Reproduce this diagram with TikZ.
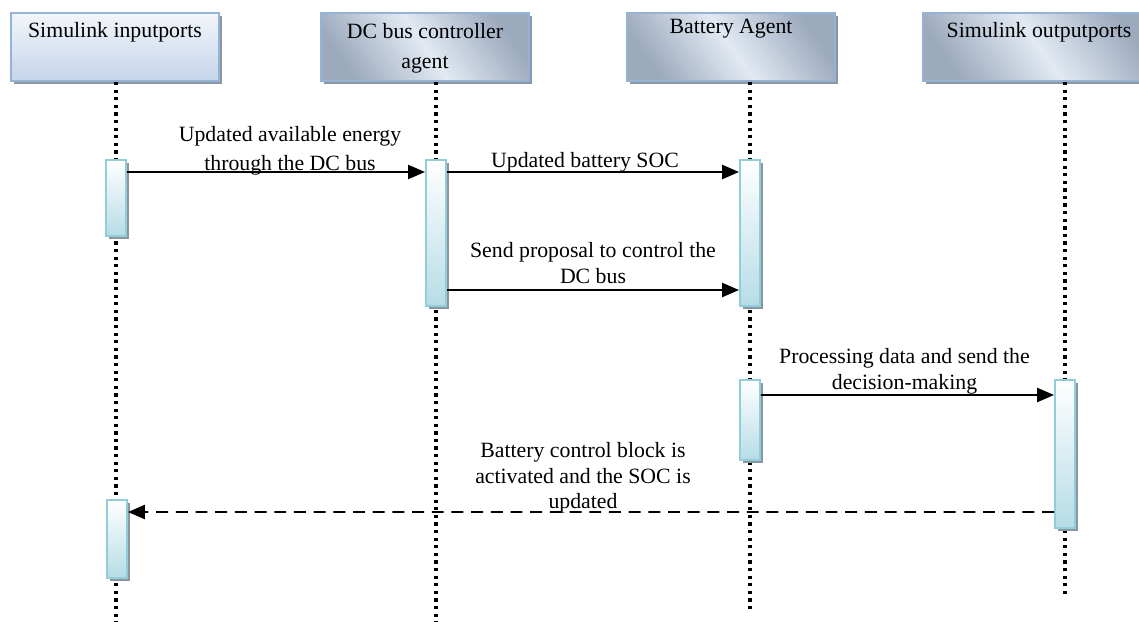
\documentclass[tikz,border=0pt]{standalone}
\usepackage{fontspec}
\setmainfont{Liberation Serif}
\usetikzlibrary{arrows.meta,positioning,calc,shadows}
\definecolor{headedge}{RGB}{149,179,215}
\definecolor{headtop}{RGB}{243,246,250}
\definecolor{headlow}{RGB}{196,212,234}
\definecolor{steeldark}{RGB}{156,170,190}
\definecolor{steellight}{RGB}{226,233,242}
\definecolor{baredge}{RGB}{146,205,220}
\definecolor{barlow}{RGB}{182,220,230}
\definecolor{shadowgray}{RGB}{140,150,160}

\begin{document}
\begin{tikzpicture}[
  x=0.025cm, y=-0.025cm,
  head/.style={rectangle, draw=headedge, line width=1.4pt, minimum width=5.2cm, inner sep=0pt, text height=0.625cm, text depth=1.075cm, align=center, font=\fontsize{15.5}{21}\selectfont, general shadow={fill=shadowgray, shadow xshift=2pt, shadow yshift=-2pt}},
  plainhead/.style={head, top color=headtop, bottom color=headlow},
  metalhead/.style={head, top color=steeldark, bottom color=steeldark, middle color=steellight, shading angle=-55},
  bar/.style={rectangle, draw=baredge, line width=1.4pt, top color=white, bottom color=barlow, minimum width=0.5cm, inner sep=0pt, general shadow={fill=shadowgray, shadow xshift=2pt, shadow yshift=-2pt}},
  life/.style={line width=2.3pt, dash pattern=on 2.3pt off 3.1pt},
  msg/.style={-{Triangle[length=12pt,width=10pt]}, line width=1.4pt},
  reply/.style={msg, dash pattern=on 8.5pt off 5.5pt},
  lbl/.style={font=\fontsize{15.5}{18}\selectfont, align=center, inner sep=1pt}
]
\useasboundingbox (0,0) rectangle (1139,626);

% Lifeline heads
\node[plainhead, anchor=north west] (inports) at (10,12) {Simulink inputports};
\node[metalhead, anchor=north west, text height=1.375cm, text depth=0.325cm] (busagent) at (320,12) {DC bus controller\\agent};
\node[metalhead, anchor=north west, text height=0.525cm, text depth=1.175cm] (battagent) at (626,12) {Battery Agent};
\node[metalhead, anchor=north west, minimum width=5.8cm] (outports) at (922,12) {Simulink outputports};

% Lifelines
\coordinate (inend) at (116,622);
\coordinate (busend) at (436,622);
\coordinate (battend) at (750,612);
\coordinate (outend) at (1065,598);
\draw[life] (inports.south -| inend) -- (inend);
\draw[life] (busagent.south -| busend) -- (busend);
\draw[life] (battagent.south -| battend) -- (battend);
\draw[life] (outports.south -| outend) -- (outend);

% Activation bars
\node[bar, minimum height=1.9cm] (inact1) at (116,198) {};
\node[bar, minimum height=3.65cm] (busact) at (436,233) {};
\node[bar, minimum height=3.65cm] (battact1) at (750,233) {};
\node[bar, minimum height=2cm] (battact2) at (750,420) {};
\node[bar, minimum height=3.7cm] (outact) at (1065,454) {};
\node[bar, minimum height=1.95cm] (inact2) at (117,539) {};

% Messages
\draw[msg] ($(inact1.north east)+(0,13)$) -- node[lbl, above=-4pt, xshift=0.35cm] {Updated available energy\\[3pt]through the DC bus} ($(busact.north west)+(0,13)$);
\draw[msg] ($(busact.north east)+(0,13)$) -- node[lbl, above=-1.5pt, xshift=-0.2cm] {Updated battery SOC} ($(battact1.north west)+(0,13)$);
\draw[msg] ($(busact.south east)+(0,-17)$) -- node[lbl, above=3pt] {Send proposal to control the\\[0.5pt]DC bus} ($(battact1.south west)+(0,-17)$);
\draw[msg] ($(battact2.north east)+(0,16)$) -- node[lbl, above=-1pt, xshift=-0.075cm] {Processing data and send the\\[0.5pt]decision-making} ($(outact.north west)+(0,16)$);
\draw[reply] ($(outact.north west)+(0,133)$) -- node[lbl, above=-2.5pt, xshift=-0.2cm] {Battery control block is\\activated and the SOC is\\updated} ($(inact2.north east)+(0,13)$);

\end{tikzpicture}
\end{document}
